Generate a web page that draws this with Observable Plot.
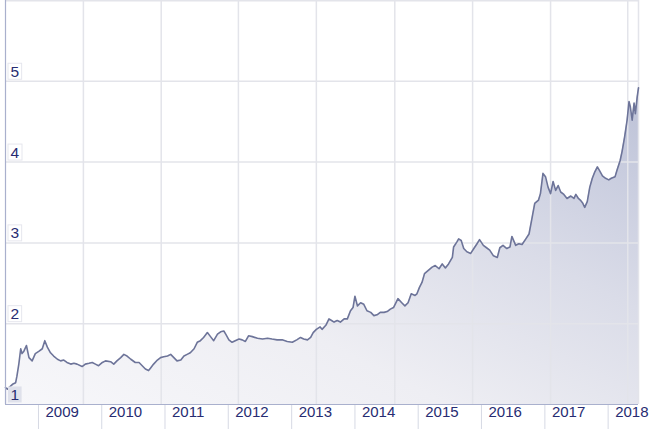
<!DOCTYPE html>
<html>
<head>
<meta charset="utf-8">
<script src="https://cdn.jsdelivr.net/npm/d3@7"></script>
<script src="https://cdn.jsdelivr.net/npm/@observablehq/plot@0.6"></script>
<style>
  html, body { margin: 0; padding: 0; background: #ffffff; }
</style>
</head>
<body>
<div id="chart"></div>
<script>
// Time positions as decimal years
const years = [
  2008.48, 2008.51, 2008.59, 2008.64, 2008.66, 2008.69, 2008.72, 2008.74, 2008.77, 2008.81,
  2008.85, 2008.90, 2008.95, 2009.01, 2009.06, 2009.10, 2009.14, 2009.19, 2009.24, 2009.30,
  2009.35, 2009.40, 2009.45, 2009.51, 2009.56, 2009.61, 2009.69, 2009.74, 2009.80, 2009.85,
  2009.90, 2009.95, 2010.01, 2010.06, 2010.14, 2010.19, 2010.24, 2010.30, 2010.35, 2010.40,
  2010.46, 2010.53, 2010.59, 2010.64, 2010.69, 2010.74, 2010.77, 2010.82, 2010.88, 2010.93,
  2010.98, 2011.04, 2011.09, 2011.14, 2011.19, 2011.25, 2011.30, 2011.35, 2011.40, 2011.46,
  2011.51, 2011.56, 2011.61, 2011.67, 2011.72, 2011.77, 2011.83, 2011.88, 2011.93, 2011.96,
  2012.01, 2012.06, 2012.11, 2012.17, 2012.22, 2012.27, 2012.32, 2012.38, 2012.46, 2012.54,
  2012.62, 2012.69, 2012.77, 2012.85, 2012.93, 2013.01, 2013.08, 2013.14, 2013.19, 2013.25,
  2013.30, 2013.34, 2013.39, 2013.45, 2013.48, 2013.54, 2013.59, 2013.63, 2013.67, 2013.72,
  2013.77, 2013.83, 2013.88, 2013.93, 2013.97, 2014.00, 2014.04, 2014.09, 2014.14, 2014.19,
  2014.25, 2014.30, 2014.35, 2014.40, 2014.46, 2014.51, 2014.56, 2014.61, 2014.68, 2014.74,
  2014.79, 2014.84, 2014.89, 2014.95, 2014.98, 2015.02, 2015.06, 2015.10, 2015.16, 2015.22,
  2015.27, 2015.33, 2015.38, 2015.43, 2015.48, 2015.54, 2015.56, 2015.61, 2015.64, 2015.68,
  2015.72, 2015.77, 2015.83, 2015.88, 2015.93, 2015.97, 2016.03, 2016.08, 2016.13, 2016.19,
  2016.25, 2016.29, 2016.34, 2016.40, 2016.45, 2016.48, 2016.54, 2016.59, 2016.64, 2016.70,
  2016.75, 2016.80, 2016.84, 2016.90, 2016.93, 2016.97, 2017.01, 2017.05, 2017.09, 2017.13,
  2017.17, 2017.21, 2017.25, 2017.30, 2017.35, 2017.41, 2017.46, 2017.49, 2017.53, 2017.56,
  2017.60, 2017.63, 2017.67, 2017.71, 2017.75, 2017.79, 2017.83, 2017.86, 2017.91, 2017.96,
  2018.01, 2018.05, 2018.11, 2018.14, 2018.19, 2018.22, 2018.26, 2018.30, 2018.33, 2018.35,
  2018.38, 2018.41, 2018.43, 2018.46, 2018.48
];
const values = [
  1.21, 1.19, 1.25, 1.27, 1.35, 1.50, 1.69, 1.63, 1.66, 1.73,
  1.58, 1.54, 1.63, 1.66, 1.69, 1.79, 1.71, 1.64, 1.60, 1.56,
  1.54, 1.55, 1.52, 1.50, 1.51, 1.50, 1.47, 1.50, 1.51, 1.52,
  1.50, 1.48, 1.52, 1.54, 1.53, 1.50, 1.54, 1.58, 1.62, 1.60,
  1.56, 1.52, 1.52, 1.48, 1.44, 1.42, 1.45, 1.50, 1.55, 1.58,
  1.59, 1.60, 1.62, 1.58, 1.54, 1.55, 1.60, 1.62, 1.64, 1.69,
  1.77, 1.79, 1.83, 1.89, 1.84, 1.79, 1.87, 1.90, 1.91, 1.87,
  1.80, 1.77, 1.79, 1.81, 1.80, 1.78, 1.85, 1.84, 1.82, 1.81,
  1.82, 1.81, 1.80, 1.80, 1.78, 1.77, 1.80, 1.83, 1.81, 1.80,
  1.83, 1.89, 1.93, 1.96, 1.93, 1.98, 2.06, 2.04, 2.02, 2.04,
  2.02, 2.06, 2.06, 2.16, 2.20, 2.34, 2.22, 2.26, 2.24, 2.16,
  2.14, 2.10, 2.11, 2.14, 2.14, 2.15, 2.18, 2.20, 2.31, 2.26,
  2.22, 2.26, 2.37, 2.35, 2.37, 2.45, 2.51, 2.62, 2.66, 2.70,
  2.72, 2.68, 2.74, 2.69, 2.74, 2.82, 2.95, 3.01, 3.05, 3.03,
  2.93, 2.89, 2.87, 2.93, 2.99, 3.04, 2.97, 2.94, 2.91, 2.84,
  2.82, 2.94, 2.97, 2.93, 2.95, 3.08, 2.97, 2.99, 2.98, 3.05,
  3.11, 3.32, 3.49, 3.53, 3.61, 3.86, 3.82, 3.69, 3.61, 3.76,
  3.65, 3.71, 3.63, 3.60, 3.55, 3.58, 3.55, 3.60, 3.55, 3.53,
  3.49, 3.44, 3.51, 3.69, 3.80, 3.88, 3.94, 3.90, 3.83, 3.80,
  3.78, 3.80, 3.82, 3.90, 4.02, 4.13, 4.31, 4.52, 4.75, 4.69,
  4.52, 4.73, 4.60, 4.81, 4.92
];
const tickYears = [2009, 2010, 2011, 2012, 2013, 2014, 2015, 2016, 2017, 2018];
const yTicks = [1, 2, 3, 4, 5];
const gridYears = [2009.71, 2010.94, 2012.16, 2013.39, 2014.63, 2015.86, 2017.09, 2018.31];
const domainYears = [2008.48, 2018.48];
const yDomain = [1, 6];

function toDate(y) {
  const yr = Math.floor(y);
  const s = Date.UTC(yr, 0, 1), e = Date.UTC(yr + 1, 0, 1);
  return new Date(s + (y - yr) * (e - s));
}

const data = years.map((t, i) => ({date: toDate(t), value: values[i]}));
const tickDates = tickYears.map(y => toDate(y));
const gridDates = gridYears.map(y => toDate(y));
const xDomain = domainYears.map(toDate);

const textColor = "#272c72";
const gridColor = "#e3e4ea";
const axisColor = "#a9b0cd";

const chart = Plot.plot({
  width: 651,
  height: 429,
  marginLeft: 5,
  marginRight: 13,
  marginTop: 0,
  marginBottom: 25,
  style: {background: "#ffffff", color: "#d6d9e4", fontFamily: "'Liberation Sans', Arial, sans-serif"},
  x: {type: "utc", domain: xDomain, ticks: tickDates, tickSize: 25, tickPadding: 0, tickFormat: () => "", label: null},
  y: {domain: yDomain, axis: null},
  marks: [
    Plot.areaY(data, {x: "date", y1: yDomain[0], y2: "value", fill: "url(#areaGrad)", curve: "linear"}),
    Plot.ruleY(yTicks.slice(1), {stroke: gridColor, strokeWidth: 1.5}),
    Plot.ruleX(gridDates, {stroke: gridColor, strokeWidth: 1.5}),
    Plot.ruleY([yDomain[1]], {stroke: gridColor, strokeWidth: 2}),
    Plot.ruleX([xDomain[1]], {stroke: gridColor, strokeWidth: 1.5}),
    Plot.lineY(data, {x: "date", y: "value", stroke: "#6d7499", strokeWidth: 1.6, strokeLinejoin: "round"}),
    Plot.ruleX([xDomain[0]], {stroke: axisColor, strokeWidth: 1.2}),
    Plot.ruleY([yDomain[0]], {stroke: axisColor, strokeWidth: 1.2}),
    Plot.text(yTicks, {y: d => d, text: d => String(d), frameAnchor: "left", textAnchor: "start", dx: 5, dy: -9.5,
      fontSize: 15.5, fill: textColor}),
    Plot.text(tickDates, {x: d => d, text: d => String(d.getUTCFullYear()), frameAnchor: "bottom", textAnchor: "start",
      dx: 7, dy: 12.5, fontSize: 15, fill: textColor})
  ]
});

document.getElementById("chart").appendChild(chart);

// gradient for the area fill
const svg = d3.select(chart);
const defs = svg.insert("defs", ":first-child");
const grad = defs.append("linearGradient").attr("id", "areaGrad")
  .attr("x1", 0).attr("y1", 1).attr("x2", 1).attr("y2", 0);
[[0, "#f7f7fa"], [0.35, "#eeeef3"], [0.65, "#dadce8"], [0.85, "#c9cddf"], [1, "#bcc1d6"]].forEach(([o, c]) =>
  grad.append("stop").attr("offset", o).attr("stop-color", c));

// label boxes behind the y tick labels
const textGroups = chart.querySelectorAll('g[aria-label="text"]');
const yGroup = textGroups[0];
yGroup.querySelectorAll("text").forEach(t => {
  const b = t.getBBox();
  const isOne = t.textContent === "1";
  const r = document.createElementNS("http://www.w3.org/2000/svg", "rect");
  r.setAttribute("x", b.x - 2.5);
  r.setAttribute("y", b.y + 0.5);
  r.setAttribute("width", b.width + 5);
  r.setAttribute("height", b.height - 1);
  r.setAttribute("fill", isOne ? "#dfe1eb" : "#ffffff");
  r.setAttribute("stroke", isOne ? "none" : "#e6e7ee");
  r.setAttribute("stroke-width", 1);
  if (t.getAttribute("transform")) r.setAttribute("transform", t.getAttribute("transform"));
  t.parentNode.insertBefore(r, t);
});
</script>
</body>
</html>
